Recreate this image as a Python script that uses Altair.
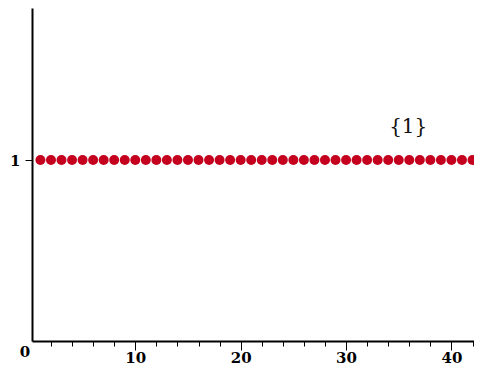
import altair as alt
import pandas as pd

# data
xs = list(range(1, 44))
ys = [1] * len(xs)
x_minor = list(range(2, 43, 2))
x_major = [10, 20, 30, 40]
y_ticks = [1]
plot_label = "{1}"

df = pd.DataFrame({"x": xs, "y": ys})

xscale = alt.Scale(domain=[0.2, 42.9], nice=False, zero=False)
yscale = alt.Scale(domain=[0, 1.84], nice=False)

FONT = "DejaVu Serif"

minor_axis = alt.Axis(
    orient="bottom",
    values=x_minor,
    title=None,
    grid=False,
    labels=False,
    domainColor="black",
    domainWidth=2,
    tickColor="black",
    tickWidth=1,
    tickSize=5,
)
major_axis = alt.Axis(
    orient="bottom",
    values=x_major,
    title=None,
    grid=False,
    domain=False,
    tickColor="black",
    tickWidth=1,
    tickSize=9,
    format="d",
    labelFont=FONT,
    labelFontWeight="bold",
    labelFontSize=15,
    labelColor="black",
    labelBaseline="alphabetic",
    labelPadding=12,
    labelFlush=False,
    labelOverlap=False,
)
y_axis = alt.Axis(
    values=y_ticks,
    title=None,
    grid=False,
    format="d",
    domainColor="black",
    domainWidth=2,
    tickColor="black",
    tickWidth=1,
    tickSize=7,
    labelFont=FONT,
    labelFontWeight="bold",
    labelFontSize=15,
    labelColor="black",
    labelPadding=5,
)

points = alt.Chart(df).mark_circle(size=100, color="#c4001e", opacity=1, clip=True).encode(
    x=alt.X("x:Q", scale=xscale, axis=minor_axis),
    y=alt.Y("y:Q", scale=yscale, axis=y_axis),
)

major = alt.Chart(pd.DataFrame({"x": x_major, "y": [0] * len(x_major)})).mark_point(opacity=0).encode(
    x=alt.X("x:Q", scale=xscale, axis=major_axis),
    y=alt.Y("y:Q", scale=yscale, axis=y_axis),
)

label = alt.Chart(pd.DataFrame({"x": [35.9], "y": [1.18], "t": [plot_label]})).mark_text(
    font=FONT, fontSize=20, color="#111111"
).encode(x=alt.X("x:Q", scale=xscale, axis=None), y=alt.Y("y:Q", scale=yscale, axis=y_axis), text="t:N")

zero = alt.Chart(pd.DataFrame({"x": [0.2], "y": [0], "t": ["0"]})).mark_text(
    font=FONT, fontSize=15, fontWeight="bold", color="black", dx=-7, dy=11
).encode(x=alt.X("x:Q", scale=xscale, axis=None), y=alt.Y("y:Q", scale=yscale, axis=y_axis), text="t:N")

chart = alt.layer(points, major, label, zero).resolve_axis(x="independent").properties(
    width=450,
    height=333,
    autosize=alt.AutoSizeParams(type="none"),
    padding={"left": 24, "top": 0, "right": -8, "bottom": 26},
).configure_view(stroke=None)

chart.save("out.html", embed_options={"renderer": "svg", "actions": False})
